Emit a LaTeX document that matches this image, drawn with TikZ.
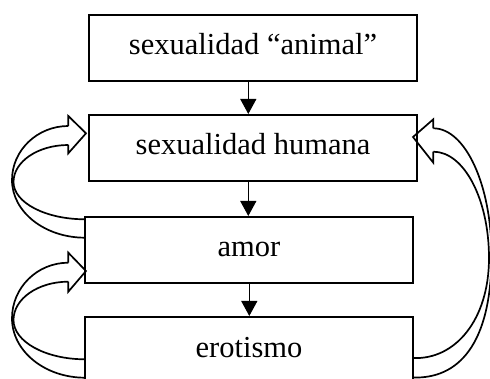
\documentclass[tikz,border=0pt]{standalone}
\usepackage{fontspec}
\setmainfont{Liberation Serif}
\usetikzlibrary{arrows.meta}
\begin{document}
\begin{tikzpicture}[x=1pt,y=-1pt,
  box/.style={draw=black,line width=2pt,minimum width=328pt,minimum height=66pt,
    inner sep=0pt,text height=14pt,text depth=0pt,font=\fontsize{30.5}{36}\selectfont},
  downarr/.style={line width=1.2pt,-{Triangle[width=16pt,length=15pt]}},
  blk/.style={line width=1.7pt,line join=miter}]
\useasboundingbox[fill=white] (0,0) rectangle (490,379);
\node[box] (b1) at (253,48) {sexualidad “animal”};
\node[box] (b2) at (253,148) {sexualidad humana};
\node[box] (b3) at (249,250) {amor};
\node[box] (b4) at (249,350) {erotismo};
\coordinate (ax) at (248.3,0);
\coordinate (bx) at (249.3,0);
\draw[downarr] (b1.south -| ax) -- (b2.north -| ax);
\draw[downarr] (b2.south -| ax) -- (b3.north -| ax);
\draw[downarr] (b3.south -| bx) -- (b4.north -| bx);
% left block arrow: amor -> sexualidad humana
\draw[blk] (68.3,126) -- (68.3,116) -- (86,133.3) -- (68.3,153.3) -- (68.3,145);
\draw[blk] (68.3,126) .. controls (37.4,126) and (12,150.2) .. (12,180)
  .. controls (12,211.9) and (44.7,237.7) .. (85,237.7);
\draw[blk] (68.3,145) .. controls (38.0,145) and (13.5,161.6) .. (13.5,182)
  .. controls (13.5,202.6) and (45.5,219.3) .. (85,219.3);
% left block arrow: erotismo -> amor
\draw[blk] (68.3,262.7) -- (68.3,252.7) -- (86,271) -- (68.3,291.7) -- (68.3,281.7);
\draw[blk] (68.3,262.7) .. controls (37.2,262.7) and (12,287.6) .. (12,318.3)
  .. controls (12,351.1) and (44.7,377.7) .. (85,377.7);
\draw[blk] (68.3,281.7) .. controls (38.0,281.7) and (13.5,298.8) .. (13.5,320)
  .. controls (13.5,341.7) and (45.5,359.3) .. (85,359.3);
% right block arrow: erotismo -> sexualidad humana
\draw[blk] (433.3,128.3) -- (433.3,119.3) -- (413,137) -- (433.3,162.7) -- (433.3,151.7);
\draw[blk] (433.3,128.3) .. controls (465.4,128.3) and (491.5,185) .. (491.5,255)
  .. controls (491.5,345) and (458,379) .. (413,377.5);
\draw[blk] (433.3,151.7) .. controls (464.1,151.7) and (489,199.3) .. (489,258)
  .. controls (489,320) and (455,360) .. (413,358);
\end{tikzpicture}
\end{document}
